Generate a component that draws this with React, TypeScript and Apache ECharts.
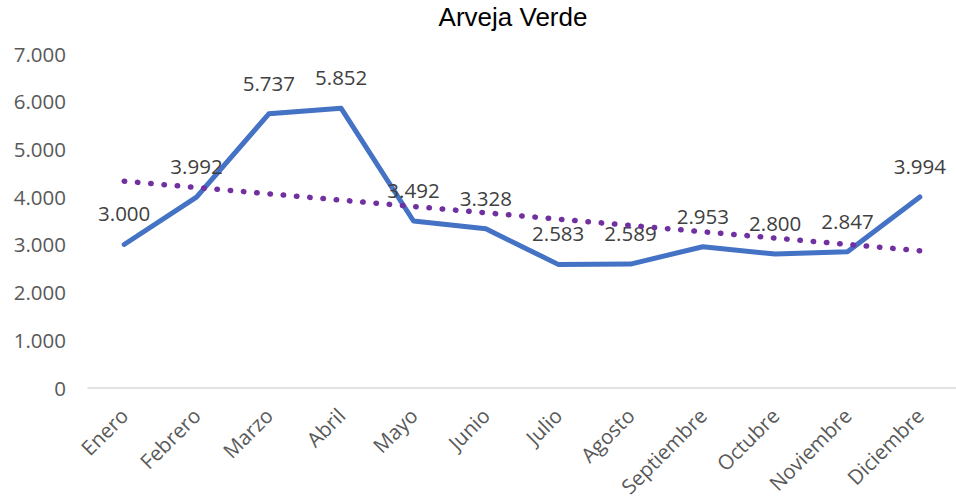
import React, { useEffect, useRef } from "react";
import * as echarts from "echarts";

const titleText = "Arveja Verde";
const months = ["Enero","Febrero","Marzo","Abril","Mayo","Junio","Julio","Agosto","Septiembre","Octubre","Noviembre","Diciembre"];
const values = [3000, 3992, 5737, 5852, 3492, 3328, 2583, 2589, 2953, 2800, 2847, 3994];
// linear trendline endpoints (Enero, Diciembre)
const trendEnds = [4326, 2869];

const fmt = (v: number) => {
  const s = Math.round(v).toString();
  return s.replace(/\B(?=(\d{3})+(?!\d))/g, ".");
};

export default function App() {
  const ref = useRef<HTMLDivElement>(null);
  useEffect(() => {
    if (!ref.current) return;
    const chart = echarts.init(ref.current, null, { renderer: "svg" });
    const trendData = months.map((_, i) =>
      i === 0 ? trendEnds[0] : i === months.length - 1 ? trendEnds[1] : null
    );
    chart.setOption({
      animation: false,
      backgroundColor: "#ffffff",
      title: {
        text: titleText,
        left: 513,
        textAlign: "center",
        top: 4,
        padding: 0,
        textStyle: { fontFamily: "Liberation Sans, Arial", fontSize: 26, fontWeight: "normal", color: "#000000" },
      },
      grid: { left: 88, right: -6, top: 53.5, bottom: 114.3, containLabel: false },
      xAxis: {
        type: "category",
        data: months,
        boundaryGap: true,
        axisLine: { lineStyle: { color: "#d9d9d9", width: 1.5 } },
        axisTick: { show: false },
        axisLabel: {
          rotate: 45,
          interval: 0,
          margin: 24,
          fontFamily: "Open Sans",
          fontSize: 20.5,
          color: "#595959",
        },
      },
      yAxis: {
        type: "value",
        min: 0,
        max: 7000,
        interval: 1000,
        splitLine: { show: false },
        axisLine: { show: false },
        axisTick: { show: false },
        axisLabel: {
          margin: 22,
          fontFamily: "Open Sans",
          fontSize: 20.5,
          color: "#595959",
          formatter: (v: number) => fmt(v),
        },
      },
      series: [
        {
          type: "line",
          data: trendData,
          connectNulls: true,
          showSymbol: false,
          symbol: "none",
          lineStyle: { color: "#7030A0", width: 5.5, type: [0.5, 12.8], cap: "round" },
          z: 3,
        },
        {
          type: "line",
          data: values,
          symbol: "circle",
          symbolSize: 1,
          showSymbol: true,
          itemStyle: { color: "rgba(0,0,0,0)", borderWidth: 0 },
          lineStyle: { color: "#4472C4", width: 5, cap: "round", join: "round" },
          label: {
            show: true,
            position: "top",
            distance: 20,
            fontFamily: "Open Sans",
            fontSize: 20.5,
            color: "#404040",
            formatter: (p: any) => fmt(p.value),
          },
          z: 2,
        },
      ],
    });
    return () => chart.dispose();
  }, []);
  return <div ref={ref} style={{ width: 956, height: 502, position: "absolute", left: 0, top: 0 }} />;
}
